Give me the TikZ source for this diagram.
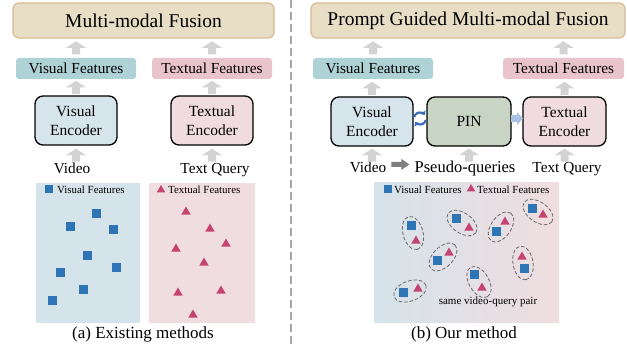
\documentclass[tikz,border=0pt]{standalone}
\usepackage{fontspec}
\setmainfont{Liberation Serif}
\usetikzlibrary{arrows.meta,calc,shapes.geometric}
\definecolor{fusionfill}{HTML}{E8DDC5}
\definecolor{fusionedge}{HTML}{D6BA92}
\definecolor{vfeat}{HTML}{AED2D6}
\definecolor{tfeat}{HTML}{EAC4CD}
\definecolor{vencfill}{HTML}{D6E4EC}
\definecolor{tencfill}{HTML}{F0DCE0}
\definecolor{pinfill}{HTML}{C8D5C4}
\definecolor{panblue}{HTML}{D5E3EA}
\definecolor{panpink}{HTML}{F0DDE0}
\definecolor{sqblue}{HTML}{2E75B6}
\definecolor{trired}{HTML}{C54370}
\definecolor{arrgray}{HTML}{D3D3D3}
\definecolor{arrdark}{HTML}{7F7F7F}
\definecolor{arrlight}{HTML}{A8C2E6}
\definecolor{cycblue}{HTML}{3A6DB8}
\definecolor{ellgray}{HTML}{6E6E6E}
\definecolor{divgray}{HTML}{A8A8A8}
\begin{document}
\begin{tikzpicture}[x=1pt,y=-1pt,
  fusion/.style={draw=fusionedge, fill=fusionfill, line width=1.2pt, rounded corners=6pt,
    minimum height=35pt, inner sep=0pt, font=\fontsize{19.5}{22}\selectfont},
  feat/.style={rounded corners=3pt, minimum height=21pt, inner sep=0pt,
    font=\fontsize{15.3}{18}\selectfont},
  enc/.style={draw=black, line width=1.3pt, rounded corners=8pt, minimum height=49pt,
    inner sep=0pt, align=center, font=\fontsize{15.5}{19}\selectfont},
  inlabel/.style={inner sep=0pt, anchor=base, font=\fontsize{15.3}{18}\selectfont},
  caption/.style={inner sep=0pt, anchor=base, font=\fontsize{17}{20}\selectfont},
  legend/.style={inner sep=0pt, anchor=west, font=\fontsize{10.9}{13}\selectfont},
  sq/.style={fill=sqblue, minimum size=9pt, inner sep=0pt},
  sqsmall/.style={fill=sqblue, minimum size=8pt, inner sep=0pt},
  tri/.style={regular polygon, regular polygon sides=3, fill=trired, minimum size=11pt, inner sep=0pt},
  trismall/.style={regular polygon, regular polygon sides=3, fill=trired, minimum size=10pt, inner sep=0pt},
  pairell/.style={draw=ellgray, dashed, dash pattern=on 3.5pt off 2pt, line width=0.85pt},
  divider/.style={draw=divgray, line width=1.2pt, dash pattern=on 8pt off 4pt},
  cyc/.style={draw=cycblue, line width=2.2pt, -{Triangle[length=3.5pt,width=6pt]}},
  uparr/.pic={\fill[arrgray] (-4,6.5) -- (-4,0) -- (-10,0) -- (0,-6.5) -- (10,0) -- (4,0) -- (4,6.5) -- cycle;},
  darkarr/.pic={\fill[arrdark] (-9,-2.5) -- (1,-2.5) -- (1,-5.5) -- (9,0) -- (1,5.5) -- (1,2.5) -- (-9,2.5) -- cycle;},
  lightarr/.pic={\fill[arrlight] (-6,-3.5) -- (0,-3.5) -- (0,-6.5) -- (6,0) -- (0,6.5) -- (0,3.5) -- (-6,3.5) -- cycle;}
]
\useasboundingbox (0,0) rectangle (627,347);

% divider
\draw[divider] (291,0) -- (291,347);

% ---------------- left: existing methods ----------------
\node[fusion, minimum width=261pt] (fusA) at (143.5,20.5) {Multi-modal Fusion};
\node[feat, fill=vfeat, minimum width=120pt] (vfA) at (76,68.5) {Visual Features};
\node[feat, fill=tfeat, minimum width=120pt] (tfA) at (212,68.5) {Textual Features};
\node[enc, fill=vencfill, minimum width=82pt] (veA) at (76,120.5) {Visual\\Encoder};
\node[enc, fill=tencfill, minimum width=82pt] (teA) at (212,120.5) {Textual\\Encoder};
\node[inlabel] (vidA) at (72,174) {Video};
\node[inlabel] (tqA) at (215,174) {Text Query};

\pic at ($(vfA.north)+(0,-10)$) {uparr};
\pic at ($(tfA.north)+(0,-10)$) {uparr};
\pic at ($(veA.north)+(0,-8)$) {uparr};
\pic at ($(teA.north)+(0,-8)$) {uparr};
\pic at ($(veA.south)+(0,9.5)$) {uparr};
\pic at ($(teA.south)+(0,9.5)$) {uparr};

% panels
\fill[panblue] (36,183) rectangle (140,323);
\fill[panpink] (149,183) rectangle (255,323);
\node[sqsmall] (lsqA) at (49,189) {};
\node[legend] at (57,189.5) {Visual Features};
\node[trismall] (ltrA) at (161,190) {};
\node[legend] at (168,189.5) {Textual Features};
\foreach \p in {(96,214),(70,227),(113,230),(87,256),(116,268),(60,273),(83,290),(52,301)}
  \node[sq] at \p {};
\foreach \p in {(186,212),(210,229),(226,244),(176,249),(204,263),(221,291),(178,293),(193,315)}
  \node[tri] at \p {};

\node[caption] (capA) at (143,339) {(a) Existing methods};

% ---------------- right: our method ----------------
\node[fusion, minimum width=314pt] (fusB) at (468,20.5) {Prompt Guided Multi-modal Fusion};
\node[feat, fill=vfeat, minimum width=120pt] (vfB) at (373,68.5) {Visual Features};
\node[feat, fill=tfeat, minimum width=121pt] (tfB) at (563.5,68.5) {Textual Features};
\node[enc, fill=vencfill, minimum width=82pt] (veB) at (372,121.5) {Visual\\Encoder};
\node[enc, fill=pinfill, minimum width=84pt] (pin) at (469,121.5) {PIN};
\node[enc, fill=tencfill, minimum width=83pt] (teB) at (564.5,121.5) {Textual\\Encoder};
\node[inlabel] (vidB) at (368,173) {Video};
\node[inlabel, font=\fontsize{16.5}{19}\selectfont] (pq) at (465,173) {Pseudo-queries};
\node[inlabel] (tqB) at (567,173) {Text Query};

\pic at ($(vfB.north)+(0,-10)$) {uparr};
\pic at ($(tfB.north)+(0,-10)$) {uparr};
\pic at ($(veB.north)+(0,-8)$) {uparr};
\pic at ($(teB.north)+(0,-8)$) {uparr};
\pic at ($(veB.south)+(0,8.5)$) {uparr};
\pic at ($(pin.south)+(0,8.5)$) {uparr};
\pic at ($(teB.south)+(0,8.5)$) {uparr};
\pic at ($(vidB.east)!0.5!(pq.west)+(0,-4)$) {darkarr};
\pic at ($(pin.east)!0.5!(teB.west)+(0,-3)$) {lightarr};

% cycle arrows between visual encoder and PIN
\coordinate (cyc) at ($(veB.east)!0.5!(pin.west)+(0,-3)$);
\draw[cyc] ($(cyc)+(195:6)$) arc[start angle=195, end angle=325, radius=6];
\draw[cyc] ($(cyc)+(15:6)$) arc[start angle=15, end angle=145, radius=6];

% gradient panel
\shade[left color=panblue, right color=panpink] (374,183) rectangle (559,323);
\node[sqsmall] (lsqB) at (388,189) {};
\node[legend] at (394,189.5) {Visual Features};
\node[trismall] (ltrB) at (471,189) {};
\node[legend] at (477,189.5) {Textual Features};

% pairs: ellipse center, angle; square; triangle
\foreach \cx/\cy/\ang/\sx/\sy/\tx/\ty in {
  413/233/75/411/226/416/241,
  462/223/35/456/219/469/228,
  501/227/-55/496/232/505/222,
  538/212/35/532/209/543/215,
  443/257/-45/437/261/449/253,
  523/263/80/524/269/522/257,
  479/282/60/474/275/482/288,
  410/291/-20/403/293/418/289}
{
  \draw[pairell, rotate around={-\ang:(\cx,\cy)}] (\cx,\cy) ellipse [x radius=17, y radius=10];
  \node[sq] at (\sx,\sy) {};
  \node[tri] at (\tx,\ty) {};
}
\node[inner sep=0pt, font=\fontsize{11}{13}\selectfont] (same) at (488,302) {same video-query pair};

\node[caption] (capB) at (464,339) {(b) Our method};
\end{tikzpicture}
\end{document}
